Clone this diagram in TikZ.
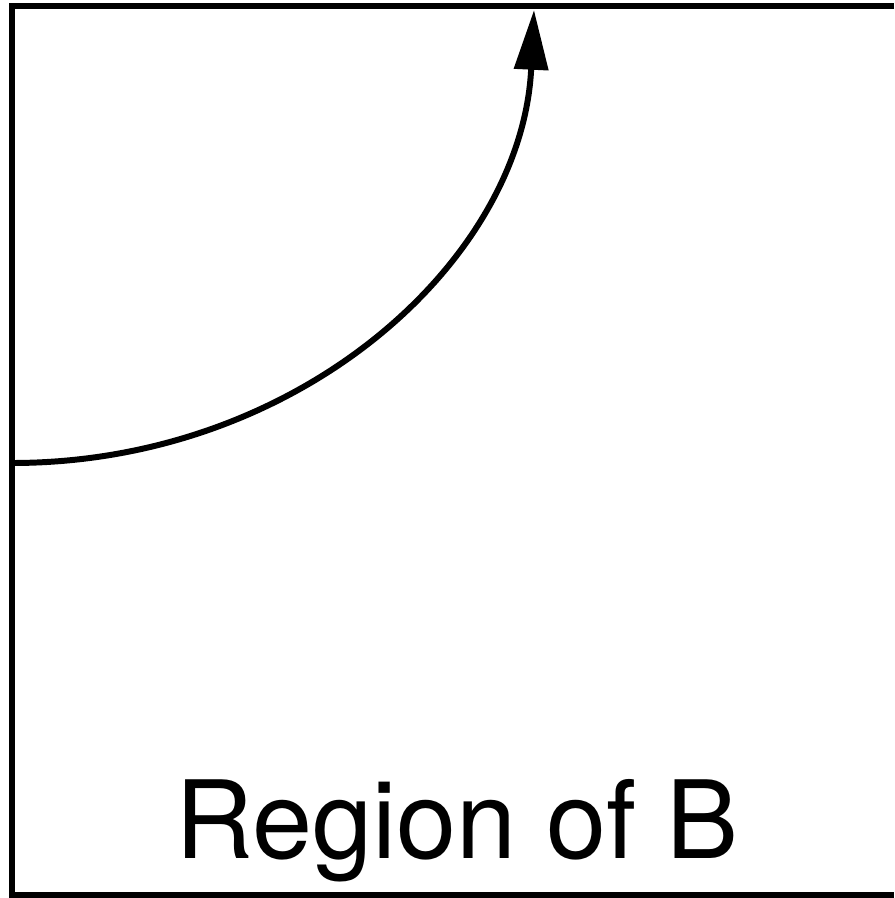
\documentclass[tikz,border=0pt]{standalone}
\usepackage{fontspec}
\setmainfont{TeX Gyre Heros}
\usetikzlibrary{positioning,arrows.meta}
\usepackage{xcolor}
\definecolor{trazo}{HTML}{000000}

\begin{document}
\begin{tikzpicture}[x=0.02cm, y=-0.02cm, line width=3.4pt]
        \useasboundingbox (0,0) rectangle (894,898);
        % marco de la region
        \draw[trazo] (894,6) -- (12,6) -- (12,895) -- (894,895);
        \coordinate (entrada) at (12,463);
        \coordinate (salida) at (534,10);
        \draw[trazo, -{Triangle[length=34pt, width=19pt]}] (entrada) .. controls (300,463) and (522,260) .. (salida);
        \node[anchor=base, inner sep=0pt, font=\fontsize{61.5}{72}\selectfont] (rotulo) at (457,858) {Region of B};
      \end{tikzpicture}
\end{document}
